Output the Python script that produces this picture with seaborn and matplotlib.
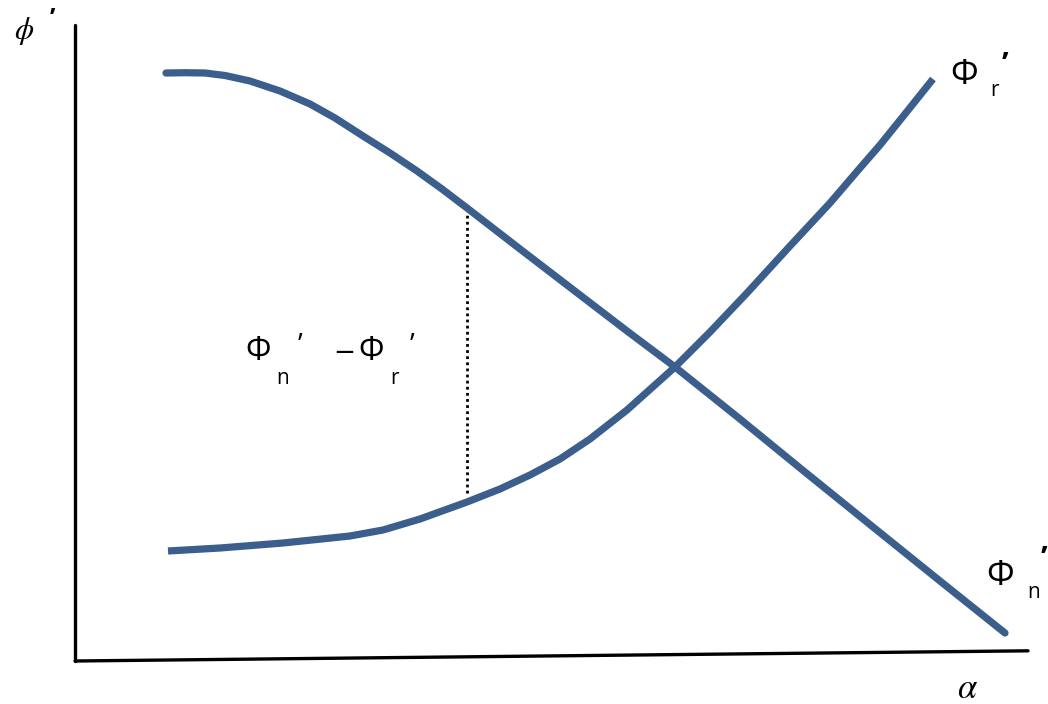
import numpy as np
import pandas as pd
import matplotlib
matplotlib.use("Agg")
import matplotlib.pyplot as plt
import seaborn as sns

# curves (alpha, phi) in axis units
alpha_n = [0.91, 1.10, 1.30, 1.50, 1.75, 2.05, 2.35, 2.60, 2.88, 3.15, 3.42, 3.67, 3.92,
           4.45, 5.05, 5.52, 6.00, 6.65, 7.25, 7.98, 8.65, 9.30]
phi_n = [5.88, 5.883, 5.88, 5.855, 5.80, 5.70, 5.57, 5.43, 5.25, 5.08, 4.90, 4.72, 4.53,
         4.12, 3.66, 3.30, 2.94, 2.42, 1.93, 1.34, 0.80, 0.28]

alpha_r = [0.93, 1.45, 2.08, 2.75, 3.08, 3.45, 3.92, 4.25, 4.55, 4.85, 5.15, 5.52,
           6.00, 6.35, 6.72, 7.15, 7.55, 7.85, 8.05, 8.30, 8.58]
phi_r = [1.10, 1.13, 1.18, 1.25, 1.31, 1.42, 1.59, 1.72, 1.86, 2.02, 2.22, 2.51,
         2.94, 3.29, 3.68, 4.15, 4.58, 4.93, 5.16, 5.47, 5.82]

# dotted gap marker
gap_alpha = 3.92
gap_phi = [1.68, 4.49]

blue = "#3b5e8c"

sns.set_style("white")
plt.rcParams["mathtext.fontset"] = "stix"
plt.rcParams["text.color"] = "black"

fig = plt.figure(figsize=(10.48, 7.04), dpi=100)
ax = fig.add_axes([75 / 1048, 43 / 704, 953 / 1048, 636 / 704])

df = pd.concat([
    pd.DataFrame({"alpha": alpha_n, "phi": phi_n, "curve": "n"}),
    pd.DataFrame({"alpha": alpha_r, "phi": phi_r, "curve": "r"}),
])
sns.lineplot(data=df, x="alpha", y="phi", units="curve", estimator=None,
             color=blue, linewidth=5.2, ax=ax, legend=False, sort=True)
for ln in ax.lines:
    ln.set_solid_joinstyle("round")
ax.lines[0].set_solid_capstyle("round")
ax.lines[1].set_solid_capstyle("butt")

ax.vlines(gap_alpha, gap_phi[0], gap_phi[1], colors="black",
          linestyles=(0, (1, 1.2)), linewidth=2)

ax.set_xlim(0, 9.53)
ax.set_ylim(0, 6.36)
ax.set_xticks([])
ax.set_yticks([])
ax.set_xlabel("")
ax.set_ylabel("")
for s in ax.spines.values():
    s.set_visible(False)

# hand drawn axes (bottom one slightly tilted)
ax.plot([0, 0], [0, 1], color="black", lw=2.4, transform=ax.transAxes, clip_on=False)
ax.plot([0, 1], [0, 0.016], color="black", lw=2.4, transform=ax.transAxes, clip_on=False)


def put(px, py, s, size, **kw):
    fig.text(px / 1048, 1 - py / 704, s, fontsize=size, ha="center", va="center",
             color="black", **kw)


sans = "Open Sans"
put(24, 31, r"$\phi$", 22)
put(52, 20, "’", 18, family=sans, weight="bold")
put(968, 688, r"$\alpha$", 25)

# labels at curve ends
put(964, 75, "Φ", 25, family=sans)
put(994, 91, "r", 15, family=sans)
put(1005, 66, "’", 22, family=sans, weight="bold")

put(1000, 576, "Φ", 25, family=sans)
put(1034, 592, "n", 15, family=sans)
put(1044, 560, "’", 22, family=sans, weight="bold")

# gap label
put(258, 352, "Φ", 23, family=sans)
put(283, 379, "n", 15, family=sans)
put(300, 346, "’", 20, family=sans)
put(344, 353, "−", 19, family="DejaVu Sans")
put(371, 352, "Φ", 23, family=sans)
put(394, 379, "r", 15, family=sans)
put(412, 346, "’", 20, family=sans)

fig.savefig("out.png", dpi=100)
